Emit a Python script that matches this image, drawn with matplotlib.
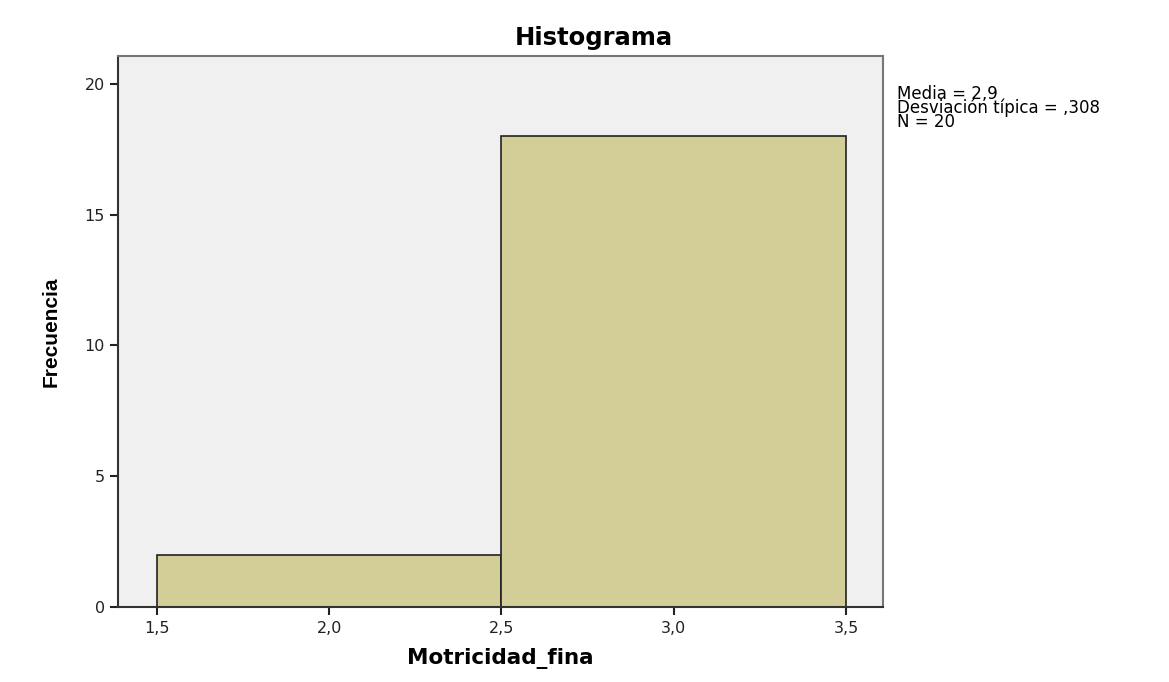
import numpy as np
import matplotlib.pyplot as plt

# data
bin_edges = [1.5, 2.5, 3.5]
counts = [2, 18]
xticks = [1.5, 2.0, 2.5, 3.0, 3.5]
xtick_labels = ['1,5', '2,0', '2,5', '3,0', '3,5']
yticks = [0, 5, 10, 15, 20]
stats_text = 'Media = 2,9\nDesviación típica = ,308\nN = 20'

plt.rcParams['font.family'] = ['DejaVu Sans']

fig = plt.figure(figsize=(11.69, 6.82), dpi=100)
ax = fig.add_axes([0.1009, 0.110, 0.6544, 0.808])
ax.set_facecolor('#f0f0f0')

widths = np.diff(bin_edges)
ax.bar(bin_edges[:-1], counts, width=widths, align='edge',
       color='#d3ce97', edgecolor='#222222', linewidth=1.2, zorder=2)

ax.set_xlim(1.387, 3.607)
ax.set_ylim(0, 21.07)
ax.set_xticks(xticks)
ax.set_xticklabels(xtick_labels)
ax.set_yticks(yticks)
ax.tick_params(axis='both', direction='out', length=6, width=1.5,
               labelsize=11.5, colors='#222222')
ax.tick_params(axis='x', pad=4)

for side in ['left', 'bottom']:
    ax.spines[side].set_color('#333333')
    ax.spines[side].set_linewidth(1.5)
for side in ['top', 'right']:
    ax.spines[side].set_color('#777777')
    ax.spines[side].set_linewidth(1.5)

# SPSS centres the title over the whole chart, not the plot area
fig.text(0.508, 0.944, 'Histograma', fontsize=17.5, fontweight='bold',
         ha='center', va='center')
ax.set_xlabel('Motricidad_fina', fontsize=15.5, fontweight='bold', labelpad=9)
ax.set_ylabel('Frecuencia', fontsize=15, fontweight='bold', labelpad=17,
              family=['Liberation Sans Narrow', 'Liberation Sans', 'DejaVu Sans'])

fig.text(0.767, 0.876, stats_text, fontsize=12, va='top', ha='left',
         linespacing=0.72)

plt.savefig('out.png', dpi=100)
